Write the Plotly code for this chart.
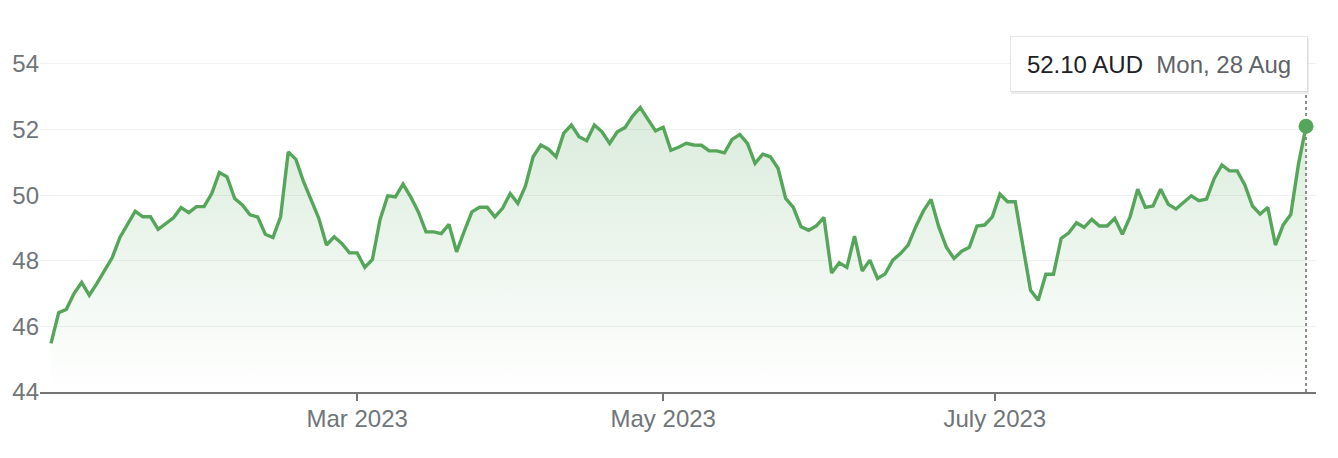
import pandas as pd
import plotly.graph_objects as go

# ---- data ----
holidays = ["2023-01-26", "2023-04-07", "2023-04-10", "2023-04-25", "2023-06-12"]
dates = [d for d in pd.bdate_range("2023-01-03", "2023-08-28") if d.strftime("%Y-%m-%d") not in holidays]

prices = [
    45.48, 46.42, 46.52, 47.00, 47.34, 46.95, 47.31, 47.73, 48.10, 48.71,
    49.09, 49.51, 49.34, 49.34, 48.96, 49.14, 49.31, 49.62, 49.47, 49.65,
    49.65, 50.05, 50.69, 50.56, 49.90, 49.70, 49.40, 49.34, 48.81, 48.71,
    49.34, 51.32, 51.09, 50.41, 49.85, 49.29, 48.48, 48.73, 48.53, 48.24,
    48.24, 47.80, 48.04, 49.26, 49.98, 49.95, 50.34, 49.95, 49.49, 48.88,
    48.88, 48.83, 49.11, 48.27, 48.90, 49.49, 49.63, 49.63, 49.34, 49.60,
    50.05, 49.75, 50.28, 51.17, 51.53, 51.40, 51.17, 51.89, 52.14, 51.78,
    51.66, 52.14, 51.93, 51.58, 51.93, 52.06, 52.41, 52.67, 52.31, 51.96,
    52.07, 51.37, 51.46, 51.58, 51.53, 51.52, 51.35, 51.35, 51.29, 51.70,
    51.85, 51.58, 50.97, 51.25, 51.17, 50.82, 49.90, 49.63, 49.04, 48.93,
    49.06, 49.32, 47.63, 47.94, 47.80, 48.75, 47.69, 48.02, 47.46, 47.60,
    48.02, 48.22, 48.48, 49.04, 49.52, 49.87, 49.04, 48.41, 48.07, 48.29,
    48.41, 49.06, 49.09, 49.34, 50.03, 49.80, 49.80, 48.43, 47.10, 46.80,
    47.59, 47.59, 48.68, 48.85, 49.16, 49.02, 49.26, 49.06, 49.06, 49.29,
    48.81, 49.34, 50.18, 49.63, 49.67, 50.18, 49.72, 49.58, 49.77, 49.98,
    49.83, 49.88, 50.51, 50.92, 50.74, 50.74, 50.31, 49.67, 49.42, 49.63,
    48.48, 49.09, 49.41, 50.93, 52.10,
]

tick_months = ["2023-03-01", "2023-05-01", "2023-07-01"]
tick_labels = ["Mar 2023", "May 2023", "July 2023"]
y_ticks = [44, 46, 48, 50, 52, 54]
currency = "AUD"

# ---- positions on a trading-day axis ----
idx = list(range(len(prices)))


def month_pos(m):
    m = pd.Timestamp(m)
    for i, d in enumerate(dates):
        if d >= m:
            if d == m or i == 0:
                return i
            prev = dates[i - 1]
            return (i - 1) + (m - prev).days / (d - prev).days
    return len(dates) - 1


tick_vals = [month_pos(m) for m in tick_months]

GREEN = "#55a65a"
GREY = "#70757a"
FONT = "Liberation Sans, Arial, sans-serif"

last_i = idx[-1]
last_p = prices[-1]
last_d = dates[-1]

fig = go.Figure()
fig.add_trace(go.Scatter(
    x=idx, y=prices, mode="lines",
    line=dict(color=GREEN, width=3.4),
    fill="tozeroy",
    fillgradient=dict(type="vertical", start=44, stop=max(prices),
                      colorscale=[[0, "rgba(85,166,90,0.0)"], [1, "rgba(85,166,90,0.22)"]]),
    hoverinfo="skip",
))
fig.add_trace(go.Scatter(
    x=[last_i], y=[last_p], mode="markers",
    marker=dict(color=GREEN, size=15), hoverinfo="skip",
))

y_top = 54.73
tip_y = 54.0
fig.add_shape(type="line", x0=last_i, x1=last_i, y0=44, y1=53.15,
              line=dict(color="#8a8a8a", width=2, dash="dot"), layer="below")

tip_text = (f"{last_p:.2f} {currency}&nbsp;&nbsp;"
            f"<span style='color:#5f6368'>{last_d.strftime('%a')}, {last_d.day} {last_d.strftime('%b')}</span>")
# soft shadow
fig.add_annotation(x=last_i, y=tip_y, xref="x", yref="y", xanchor="right", yanchor="middle",
                   xshift=3, yshift=-2, text=" ", showarrow=False, width=296, height=54,
                   bgcolor="rgba(0,0,0,0.07)", borderpad=1, borderwidth=0)
fig.add_annotation(x=last_i, y=tip_y, xref="x", yref="y", xanchor="right", yanchor="middle",
                   xshift=2, text=tip_text, showarrow=False, width=294, height=52,
                   align="center", bgcolor="white", bordercolor="rgba(0,0,0,0.10)",
                   borderwidth=1, borderpad=1,
                   font=dict(family=FONT, size=24, color="#202124"))

fig.update_layout(
    width=1338, height=458,
    margin=dict(l=40, r=22, t=40, b=66),
    paper_bgcolor="white", plot_bgcolor="white",
    showlegend=False, hovermode=False,
    font=dict(family=FONT, size=24, color=GREY),
    xaxis=dict(range=[-1.44, 165.3], showgrid=False, zeroline=False,
               showline=True, linecolor="#757575", linewidth=2,
               ticks="outside", ticklen=7, tickwidth=1.5, tickcolor="#757575",
               tickvals=tick_vals, ticktext=tick_labels, automargin=False,
               ticklabelstandoff=-3,
               tickfont=dict(family=FONT, size=24, color=GREY)),
    yaxis=dict(range=[44, y_top], tickvals=y_ticks, showgrid=True,
               gridcolor="#f1f1f1", gridwidth=1, zeroline=False, showline=False,
               ticks="", ticklabelstandoff=0, automargin=False,
               tickfont=dict(family=FONT, size=24, color=GREY)),
)

fig.write_html("out.html", config={"displayModeBar": False},
               post_script="document.body.style.margin='0';document.body.style.overflow='hidden';")
